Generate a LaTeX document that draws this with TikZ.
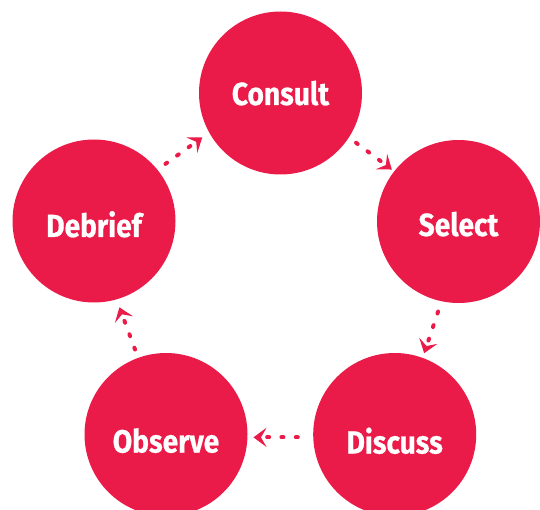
\documentclass[tikz,border=0pt]{standalone}
\usepackage{fontspec}
\newfontfamily\stagefont{Fira Sans}[FakeStretch=0.88, BoldFeatures={FakeBold=0.6}]
\usetikzlibrary{arrows.meta,positioning}
\definecolor{stagered}{RGB}{234,27,72}

\begin{document}
\begin{tikzpicture}[x=1pt, y=-1pt,
        stage/.style = {circle, fill=stagered, inner sep=0pt, minimum size=163pt,
                text=white, text height=24pt, text depth=0pt,
                font=\stagefont\bfseries\fontsize{32}{32}\selectfont},
        low/.style = {text height=#1},
        flow/.style = {draw=stagered, line width=4pt, line cap=round,
                dash pattern=on 2pt off 12.3pt,
                -{Stealth[length=13pt, width=19pt, inset=5.5pt]},
                shorten <=9pt, shorten >=5pt},
        ]
        \useasboundingbox (0,0) rectangle (540,510);
        \clip (0,0) rectangle (540,510);
        \node[stage](consult) at (280.5,93) {Consult};
        \node[stage, low=29pt](select) at (458.5,221.5) {Select};
        \node[stage, low=38pt](discuss) at (394.7,434.5) {Discuss};
        \node[stage, low=36pt](observe) at (166,434.5) {Observe};
        \node[stage, low=32pt](debrief) at (94,221) {Debrief};
        \draw[flow, shorten <=8.8pt, shorten >=2.8pt] (consult.-33) -- (select.142);
        \draw[flow, shorten <=10.7pt, shorten >=4.8pt] (select.-102) -- (discuss.70);
        \draw[flow, shorten <=15.3pt, shorten >=5.8pt] (discuss.182) -- (observe.-2);
        \draw[flow, shorten <=8.7pt, shorten >=8.3pt] (observe.110) -- (debrief.-74);
        \draw[flow, shorten <=9.8pt, shorten >=8.3pt] (debrief.39) -- (consult.209);
\end{tikzpicture}
\end{document}
